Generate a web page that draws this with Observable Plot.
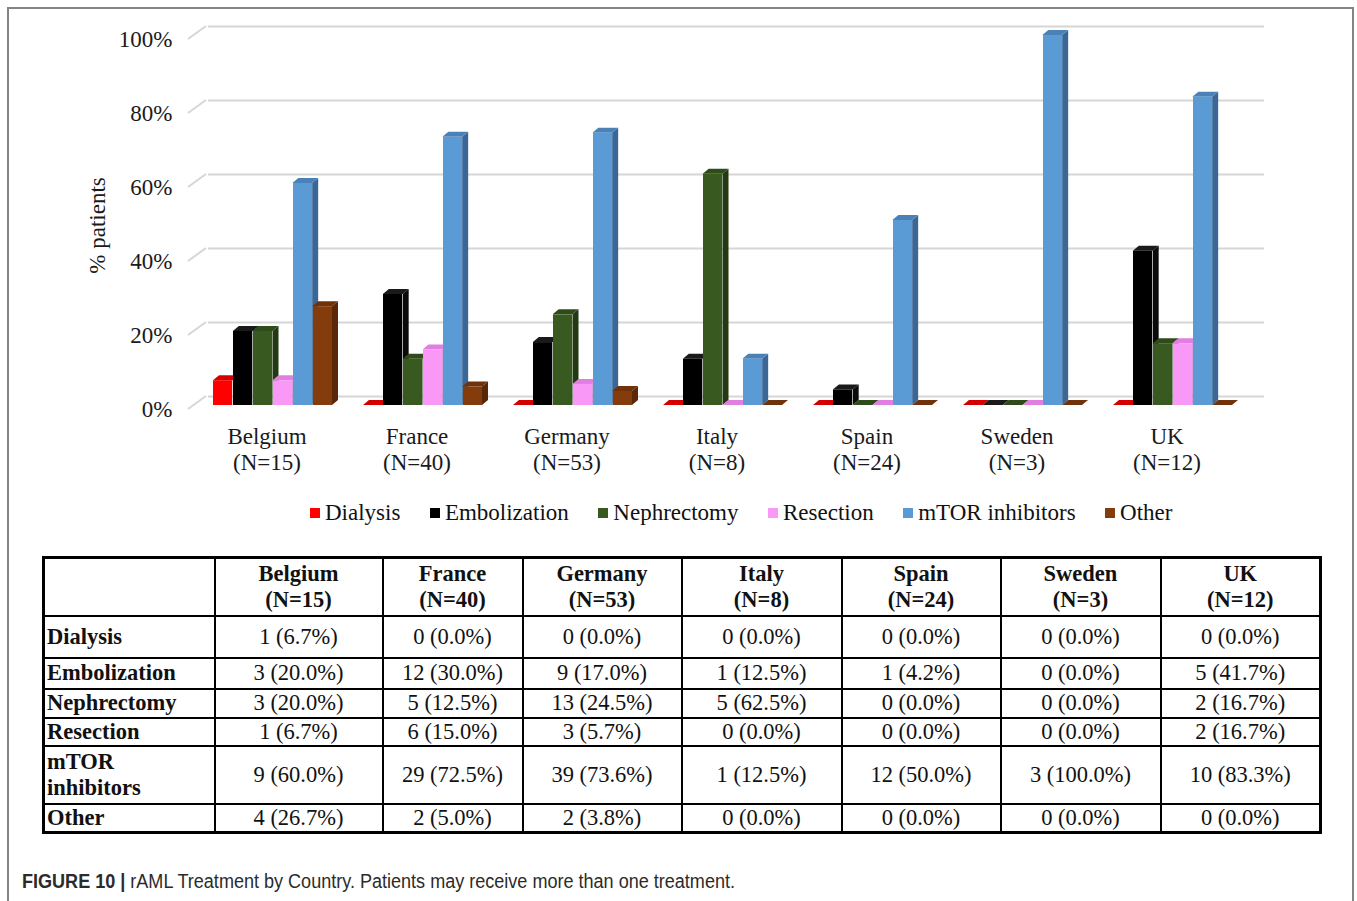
<!DOCTYPE html>
<html>
<head>
<meta charset="utf-8">
<script src="https://cdn.jsdelivr.net/npm/d3@7"></script>
<script src="https://cdn.jsdelivr.net/npm/@observablehq/plot@0.6"></script>
<style>
  html, body { margin: 0; padding: 0; background: #fff; }
  #page { position: relative; width: 1357px; height: 901px; overflow: hidden; background: #fff; font-family: "Liberation Serif", "Times New Roman", serif; color: #111; }
  #frame { position: absolute; left: 7px; top: 7px; width: 1347px; height: 1000px; box-sizing: border-box; border: 2px solid #858585; border-bottom: none; }
  #chart { position: absolute; left: 0; top: 0; }
  #legend { position: absolute; left: 310px; top: 499px; display: flex; gap: 29.5px; font-size: 23px; line-height: 28px; white-space: nowrap; }
  #legend .item { display: flex; align-items: center; }
  #legend .sw { width: 10px; height: 10px; margin-right: 5px; display: inline-block; }
  #tbl { position: absolute; left: 42px; top: 556px; border-collapse: collapse; table-layout: fixed; width: 1277px; font-size: 22.5px; border: 3px solid #000; }
  #tbl td, #tbl th { border: 2px solid #000; padding: 0; line-height: 1.12; }
  #tbl th { font-weight: bold; text-align: center; line-height: 26px; }
  #tbl td.rl { font-weight: bold; text-align: left; padding-left: 2px; }
  #tbl td.v { text-align: center; }
  #caption { position: absolute; left: 22px; top: 870px; font-family: "Liberation Sans Narrow", "Liberation Sans", Arial, sans-serif; font-size: 20px; color: #2b2b2b; white-space: nowrap; transform-origin: left top; }
  #caption b { font-weight: bold; }
</style>
</head>
<body>
<div id="page">
  <div id="frame"></div>
  <div id="chart"></div>
  <div id="legend"></div>
  <table id="tbl"></table>
  <div id="caption"><b>FIGURE 10 |</b> rAML Treatment by Country. Patients may receive more than one treatment.</div>
</div>
<script>
// ---------- data ----------
const countries = ["Belgium", "France", "Germany", "Italy", "Spain", "Sweden", "UK"];
const totals = [15, 40, 53, 8, 24, 3, 12];
const treatments = ["Dialysis", "Embolization", "Nephrectomy", "Resection", "mTOR inhibitors", "Other"];
const tableLabels = ["Dialysis", "Embolization", "Nephrectomy", "Resection", "mTOR\ninhibitors", "Other"];

// counts per country
const dialysisN     = [1, 0, 0, 0, 0, 0, 0];
const embolizationN = [3, 12, 9, 1, 1, 0, 5];
const nephrectomyN  = [3, 5, 13, 5, 0, 0, 2];
const resectionN    = [1, 6, 3, 0, 0, 0, 2];
const mtorN         = [9, 29, 39, 1, 12, 3, 10];
const otherN        = [4, 2, 2, 0, 0, 0, 0];

// percentages per country
const dialysisPct     = [6.7, 0.0, 0.0, 0.0, 0.0, 0.0, 0.0];
const embolizationPct = [20.0, 30.0, 17.0, 12.5, 4.2, 0.0, 41.7];
const nephrectomyPct  = [20.0, 12.5, 24.5, 62.5, 0.0, 0.0, 16.7];
const resectionPct    = [6.7, 15.0, 5.7, 0.0, 0.0, 0.0, 16.7];
const mtorPct         = [60.0, 72.5, 73.6, 12.5, 50.0, 100.0, 83.3];
const otherPct        = [26.7, 5.0, 3.8, 0.0, 0.0, 0.0, 0.0];

const yTicks = [0, 20, 40, 60, 80, 100];

const countsBySeries = [dialysisN, embolizationN, nephrectomyN, resectionN, mtorN, otherN];
const pctBySeries = [dialysisPct, embolizationPct, nephrectomyPct, resectionPct, mtorPct, otherPct];

// colours (front, top, side)
const frontColors = ["#ff0000", "#000000", "#38591f", "#fa98f8", "#5b9bd5", "#843c0c"];
const topColors   = ["#d40000", "#1a1a1a", "#2f4b1a", "#e07fe0", "#4a82b8", "#70320a"];
const sideColors  = ["#a80000", "#0a0a0a", "#223a12", "#c46cc4", "#3a6796", "#5a2808"];

// ---------- rows for Plot ----------
const rows = [];
treatments.forEach((t, i) => {
  countries.forEach((c, j) => {
    rows.push({country: c, treatment: t, ti: i, value: pctBySeries[i][j]});
  });
});

const nSeries = treatments.length;
const DX = 6, DY = -5;

// 3D faces (top + side) drawn through Plot's scales
function faces(index, scales, values, dimensions) {
  const x = scales.x, y = scales.y;
  const bw = x.bandwidth ? x.bandwidth() : 120;
  const w = bw / nSeries;
  const g = d3.create("svg:g").attr("aria-label", "bar-faces");
  const y0 = y(0);
  for (const r of rows) {
    const x0 = x(r.country) + r.ti * w, x1 = x0 + w, y1 = y(r.value);
    g.append("path")
      .attr("d", `M${x1},${y1}L${x1 + DX},${y1 + DY}L${x1 + DX},${y0 + DY}L${x1},${y0}Z`)
      .attr("fill", sideColors[r.ti]);
    g.append("path")
      .attr("d", `M${x0},${y1}L${x1},${y1}L${x1 + DX},${y1 + DY}L${x0 + DX},${y1 + DY}Z`)
      .attr("fill", topColors[r.ti]);
  }
  return g.node();
}

// slanted part of the back-wall grid
function gridSlants(index, scales, values, dimensions) {
  const y = scales.y;
  const left = dimensions.marginLeft;
  const g = d3.create("svg:g").attr("aria-label", "grid-slants");
  for (const t of yTicks) {
    const yy = y(t);
    g.append("line")
      .attr("x1", left - 7).attr("y1", yy + 4)
      .attr("x2", left + 11).attr("y2", yy - 9)
      .attr("stroke", "#d6d6d6").attr("stroke-width", 2);
  }
  return g.node();
}

const frontMarks = treatments.map((t, i) =>
  Plot.barY(rows.filter(r => r.ti === i), {
    x: "country", y: "value", fill: frontColors[i],
    insetLeft: i * 20, insetRight: (nSeries - 1 - i) * 20
  })
);

const plot = Plot.plot({
  width: 1357,
  height: 482,
  marginLeft: 195,
  marginRight: 106,
  marginTop: 35,
  marginBottom: 77,
  style: {fontFamily: "Liberation Serif, Times New Roman, serif", background: "transparent", overflow: "visible", color: "#1a1a1a"},
  x: {domain: countries, paddingInner: 0.2053, paddingOuter: 0.1, axis: null},
  y: {domain: [0, 100], axis: null},
  marks: [
    Plot.ruleY(yTicks, {dx: 13, dy: -9, stroke: "#d6d6d6", strokeWidth: 2}),
    gridSlants,
    Plot.axisY(yTicks, {tickFormat: d => d + "%", tickSize: 0, tickPadding: 23, fontSize: 23, dy: 4, label: null, fill: "#1a1a1a"}),
    Plot.axisX({tickFormat: (c) => c + "\n(N=" + totals[countries.indexOf(c)] + ")", tickSize: 0, tickPadding: 20, fontSize: 23, lineHeight: 1.13, dx: -6, label: null, fill: "#1a1a1a"}),
    Plot.text(["% patients"], {frameAnchor: "left", textAnchor: "middle", dx: -98, dy: 5, rotate: -90, fontSize: 23, fill: "#1a1a1a"}),
    faces,
    ...frontMarks
  ]
});
document.getElementById("chart").appendChild(plot);

// ---------- legend ----------
const legend = d3.select("#legend");
treatments.forEach((t, i) => {
  const it = legend.append("div").attr("class", "item");
  it.append("span").attr("class", "sw").style("background", frontColors[i]);
  it.append("span").text(t);
});

// ---------- table ----------
const colWidths = [171, 168, 140, 159, 160, 159, 160, 160];
const rowHeights = [58, 42, 31, 29, 28, 58, 29];
const tbl = d3.select("#tbl");
const cg = tbl.append("colgroup");
colWidths.forEach(w => cg.append("col").style("width", w + "px"));
const hr = tbl.append("tr").style("height", rowHeights[0] + "px");
hr.append("th");
countries.forEach((c, j) => hr.append("th").html(c + "<br>(N=" + totals[j] + ")"));
treatments.forEach((t, i) => {
  const tr = tbl.append("tr").style("height", rowHeights[i + 1] + "px");
  tr.append("td").attr("class", "rl").html(tableLabels[i].replace("\n", "<br>"));
  countries.forEach((c, j) => {
    tr.append("td").attr("class", "v").text(countsBySeries[i][j] + " (" + pctBySeries[i][j].toFixed(1) + "%)");
  });
});

// ---------- caption width fit ----------
const cap = document.getElementById("caption");
const cw = cap.getBoundingClientRect().width;
cap.style.transform = "scaleX(" + (713 / cw) + ")";
</script>
</body>
</html>
